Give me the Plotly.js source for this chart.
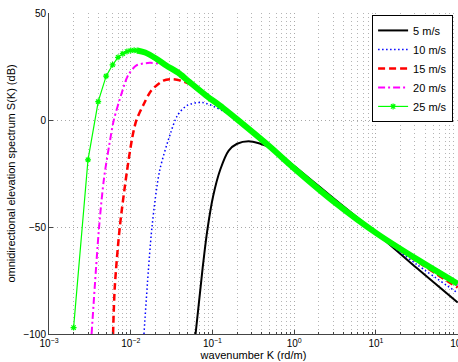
<!DOCTYPE html>
<html>
<head>
<meta charset="utf-8">
<script src="https://cdn.plot.ly/plotly-3.0.1.min.js"></script>
<style>html,body{margin:0;padding:0;background:#fff;}#chart{width:458px;height:362px;}</style>
</head>
<body>
<div id="chart"></div>
<script>
// ---- data (k in rad/m, S in dB) ----
var seriesNames = ['5 m/s', '10 m/s', '15 m/s', '20 m/s', '25 m/s'];

var k5  = [0.0621, 0.0759, 0.0861, 0.102, 0.125, 0.158, 0.2, 0.277, 0.385, 0.51, 1.0, 3.16, 10.3, 31.6, 100];
var s5  = [-100, -69, -52, -35.5, -23, -14.3, -11.1, -9.9, -11.1, -12.8, -21.5, -37.2, -53.1, -69.2, -85.3];

var k10 = [0.01452, 0.0182, 0.0226, 0.0308, 0.0372, 0.049, 0.0748, 0.131, 0.213, 0.51, 1.0, 3.16, 10.3, 31.6, 100];
var s10 = [-100, -50, -23.6, -6, 2.1, 6.8, 8.2, 4.4, -0.6, -12.6, -22, -38, -53.4, -67.5, -80.8];

var k15 = [0.00608, 0.00638, 0.00735, 0.00902, 0.01047, 0.01175, 0.01452, 0.01786, 0.0251, 0.0328, 0.0437, 0.063, 0.0838, 0.134, 0.213, 0.51, 1.0, 3.16, 10.3, 31.6, 100];
var s15 = [-100, -78.1, -50, -23.6, -8, 0, 7.6, 13.8, 18.4, 19.1, 18.1, 15.3, 11.4, 5.7, -0.5, -12.6, -22.2, -38.2, -53.3, -66, -78.3];

var k20 = [0.00332, 0.00410, 0.00472, 0.0057, 0.00621, 0.0077, 0.00927, 0.01175, 0.01706, 0.0224, 0.0282, 0.0396, 0.0525, 0.0838, 0.134, 0.213, 0.51, 1.0, 3.16, 10.3, 31.6, 100];
var s20 = [-100, -50, -27, -7.5, 0, 12.2, 20.8, 25.5, 26.7, 26.3, 25.2, 21.6, 17.7, 11.4, 5.7, -0.5, -12.6, -22.4, -38.4, -53.2, -65.5, -77.3];

// 25 m/s: individually visible marker samples, then the dense part
var k25 = [0.002, 0.003, 0.004, 0.005, 0.006, 0.007, 0.008, 0.009, 0.010, 0.011, 0.012];
var s25 = [-97, -18.6, 8.6, 20.5, 25.8, 29.3, 31.0, 32.0, 32.5, 32.6, 32.5];
var k25d = [0.012, 0.015, 0.0206, 0.0272, 0.0396, 0.0525, 0.0838, 0.134, 0.213, 0.51, 1.0, 3.16, 10.3, 31.6, 100];
var s25d = [32.5, 31.5, 28.6, 25.5, 21.6, 17.7, 11.4, 5.7, -0.5, -12.6, -22.6, -38.6, -53.1, -65.0, -76.5];

var xTickVals = [0.001, 0.01, 0.1, 1, 10, 100];
var xTickText = ['10<sup>\u22123</sup>', '10<sup>\u22122</sup>', '10<sup>\u22121</sup>', '10<sup>0</sup>', '10<sup>1</sup>', '10<sup>2</sup>'];
var yTickVals = [-100, -50, 0, 50];
var yTickText = ['\u2212100', '\u221250', '0', '50'];

// minor grid positions (2..9 in each decade)
var minorVals = [];
for (var d = -3; d < 2; d++) { for (var m = 2; m <= 9; m++) { minorVals.push(m * Math.pow(10, d)); } }

var font = 'Liberation Sans, Arial, Helvetica, sans-serif';
var gridDash = '1px,3px';

var traces = [
  {x: k5, y: s5, name: seriesNames[0], mode: 'lines', line: {color: '#000000', width: 2, shape: 'spline', smoothing: 0.8}},
  {x: k10, y: s10, name: seriesNames[1], mode: 'lines', line: {color: '#0000ff', width: 1.5, dash: '1.5px,2.5px', shape: 'spline', smoothing: 0.8}},
  {x: k15, y: s15, name: seriesNames[2], mode: 'lines', line: {color: '#ff0000', width: 2.5, dash: '7px,4px', shape: 'spline', smoothing: 0.8}},
  {x: k20, y: s20, name: seriesNames[3], mode: 'lines', line: {color: '#ff00ff', width: 2, dash: '7px,3px,2px,3px', shape: 'spline', smoothing: 0.8}},
  {x: k25d, y: s25d, name: seriesNames[4], mode: 'lines', showlegend: false, hoverinfo: 'skip',
   line: {color: '#00ff00', width: 6, shape: 'spline', smoothing: 0.8}},
  {x: k25, y: s25, name: seriesNames[4], mode: 'lines+markers',
   line: {color: '#00ff00', width: 1.2},
   marker: {symbol: 'asterisk-open', size: 5, color: '#00ff00', line: {color: '#00ff00', width: 1.2}}}
];

var layout = {
  width: 458, height: 362,
  margin: {l: 49, r: 0, t: 13, b: 28},
  paper_bgcolor: '#ffffff', plot_bgcolor: '#ffffff',
  font: {family: font, size: 10, color: '#000'},
  showlegend: true,
  legend: {x: 0.988, xanchor: 'right', y: 0.994, yanchor: 'top', bgcolor: '#ffffff',
           bordercolor: '#000000', borderwidth: 1, font: {family: font, size: 11, color: '#000'},
           tracegroupgap: 0, itemwidth: 30},
  xaxis: {
    type: 'log', range: [-3, 2.004], tickmode: 'array', tickvals: xTickVals, ticktext: xTickText,
    ticklabeloverflow: 'allow',
    ticks: 'inside', ticklen: 4, tickcolor: '#444', showline: true, linecolor: '#444', linewidth: 1,
    showgrid: true, gridcolor: '#a8a8a8', griddash: gridDash, gridwidth: 1, zeroline: false,
    tickfont: {family: font, size: 10, color: '#000'},
    minor: {tickmode: 'array', tickvals: minorVals, ticks: 'inside', ticklen: 2, tickcolor: '#444',
            showgrid: true, gridcolor: '#b4b4b4', griddash: gridDash, gridwidth: 1},
    title: {text: 'wavenumber K (rd/m)', font: {family: font, size: 11, color: '#000'}, standoff: 2}
  },
  yaxis: {
    range: [-100, 50], tickmode: 'array', tickvals: yTickVals, ticktext: yTickText,
    ticks: 'inside', ticklen: 4, tickcolor: '#444', showline: true, linecolor: '#444', linewidth: 1,
    showgrid: true, gridcolor: '#a8a8a8', griddash: gridDash, zeroline: false,
    tickfont: {family: font, size: 10, color: '#000'},
    title: {text: 'omnidirectional elevation spectrum S(K) (dB)', font: {family: font, size: 11, color: '#000'}, standoff: 5}
  }
};

Plotly.newPlot('chart', traces, layout, {staticPlot: true, displayModeBar: false});
</script>
</body>
</html>
